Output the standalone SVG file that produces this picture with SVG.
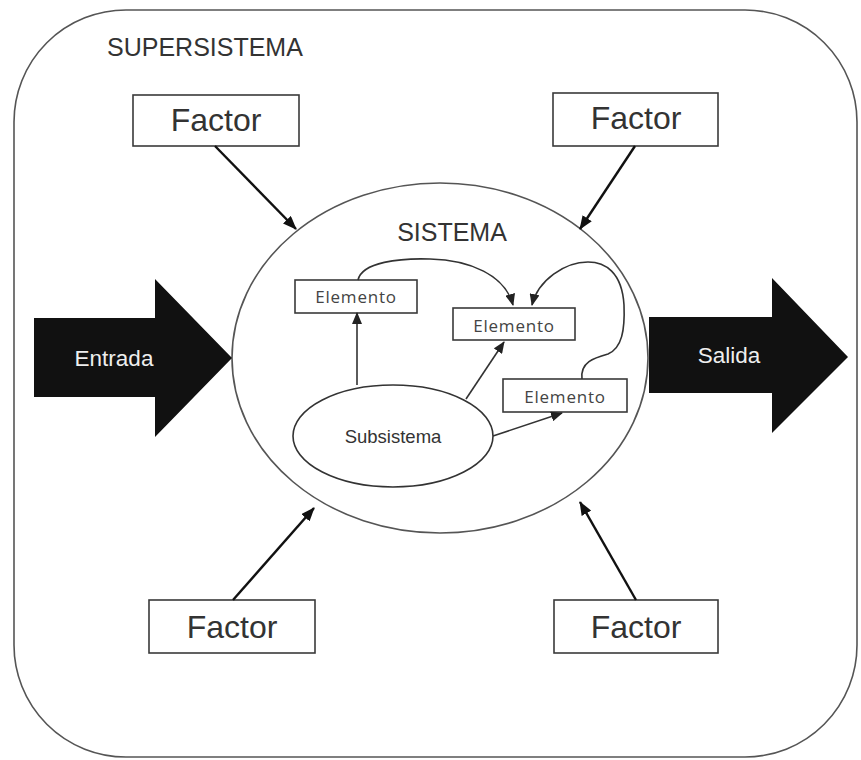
<svg xmlns="http://www.w3.org/2000/svg" width="861" height="760" viewBox="0 0 861 760">
<style>
.box{fill:#fff;stroke:#3a3a3a;stroke-width:1.6}
.lbl{font-family:"Liberation Sans",Arial,sans-serif;fill:#333;text-anchor:middle}
.el{font-family:"Open Sans","DejaVu Sans",sans-serif;font-size:17px;letter-spacing:0.8px;fill:#444;text-anchor:middle}
.conn{fill:none;stroke:#333;stroke-width:1.6}
.fconn{fill:none;stroke:#111;stroke-width:2.4}
.big{fill:#111}
</style>
<defs>
<marker id="ah" markerWidth="12" markerHeight="10" refX="11" refY="5" orient="auto" markerUnits="userSpaceOnUse">
<path d="M0,0 L12,5 L0,10 Z" fill="#222"/>
</marker>
<marker id="fh" markerWidth="14" markerHeight="11" refX="13" refY="5.5" orient="auto" markerUnits="userSpaceOnUse">
<path d="M0,0 L14,5.5 L0,11 Z" fill="#111"/>
</marker>
</defs>
<rect width="861" height="760" fill="#fff"/>
<g id="supersistema">
<rect x="14" y="10" width="843" height="747" rx="112" ry="112" fill="#fff" stroke="#555" stroke-width="1.6"/>
<text class="lbl" x="107" y="56" font-size="25" style="text-anchor:start">SUPERSISTEMA</text>
</g>
<g id="sistema">
<ellipse cx="440" cy="358" rx="208" ry="175" fill="#fff" stroke="#555" stroke-width="1.6"/>
<text class="lbl" x="452" y="241" font-size="25">SISTEMA</text>
</g>
<g id="entrada">
<path class="big" d="M34,318 L155,318 L155,279 L232,358 L155,437 L155,397 L34,397 Z"/>
<text x="114" y="366" font-family="Liberation Sans,Arial,sans-serif" font-size="22.5" fill="#eee" text-anchor="middle">Entrada</text>
</g>
<g id="salida">
<path class="big" d="M649,317 L772,317 L772,278 L848,357 L772,433 L772,393 L649,393 Z"/>
<text x="729" y="363" font-family="Liberation Sans,Arial,sans-serif" font-size="22.5" fill="#eee" text-anchor="middle">Salida</text>
</g>
<g id="factor-tl">
<rect class="box" x="133" y="95" width="166" height="51"/>
<text class="lbl" x="216" y="131" font-size="32">Factor</text>
</g>
<g id="factor-tr">
<rect class="box" x="553" y="93" width="165" height="53"/>
<text class="lbl" x="636" y="129" font-size="32">Factor</text>
</g>
<g id="factor-bl">
<rect class="box" x="149" y="600" width="166" height="53"/>
<text class="lbl" x="232" y="638" font-size="32">Factor</text>
</g>
<g id="factor-br">
<rect class="box" x="554" y="600" width="164" height="53"/>
<text class="lbl" x="636" y="638" font-size="32">Factor</text>
</g>
<g id="elemento1">
<rect class="box" x="295" y="280" width="122" height="33"/>
<text class="el" x="356" y="303">Elemento</text>
</g>
<g id="elemento2">
<rect class="box" x="453" y="308" width="122" height="32"/>
<text class="el" x="514" y="332">Elemento</text>
</g>
<g id="elemento3">
<rect class="box" x="503" y="379" width="124" height="33"/>
<text class="el" x="565" y="403">Elemento</text>
</g>
<g id="subsistema">
<ellipse cx="393" cy="436" rx="100" ry="51" fill="#fff" stroke="#333" stroke-width="1.6"/>
<text class="lbl" x="393" y="443" font-size="18.5" fill="#444">Subsistema</text>
</g>
<g id="connectors">
<line class="fconn" x1="215" y1="146" x2="296" y2="229" marker-end="url(#fh)"/>
<line class="fconn" x1="635" y1="146" x2="580" y2="229" marker-end="url(#fh)"/>
<line class="fconn" x1="233" y1="600" x2="314" y2="508" marker-end="url(#fh)"/>
<line class="fconn" x1="636" y1="600" x2="580" y2="502" marker-end="url(#fh)"/>
<line class="conn" x1="357" y1="385" x2="357" y2="313" marker-end="url(#ah)"/>
<line class="conn" x1="466" y1="399" x2="504" y2="342" marker-end="url(#ah)"/>
<line class="conn" x1="493" y1="436" x2="562" y2="413" marker-end="url(#ah)"/>
<path class="conn" d="M358,280 C362,262 400,258 430,259 C470,260 505,275 513,305" marker-end="url(#ah)"/>
<path class="conn" d="M582,379 C580,362 594,358 608,354 C622,348 625,330 624,305 C622,272 605,262 588,262 C565,262 538,280 532,305" marker-end="url(#ah)"/>
</g>
</svg>
